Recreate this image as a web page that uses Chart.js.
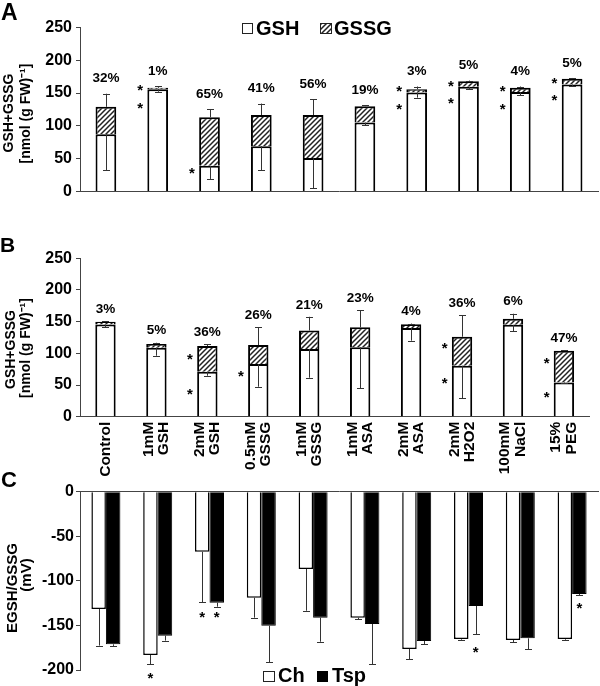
<!DOCTYPE html>
<html><head><meta charset="utf-8">
<script src="https://cdn.jsdelivr.net/npm/chart.js@4.4.0/dist/chart.umd.min.js"></script>
<style>
html,body{margin:0;padding:0;background:#fff;}
#wrap{position:relative;width:600px;height:686px;overflow:hidden;background:#fff;}
canvas{position:absolute;left:0;}
</style></head><body>
<div id="wrap">
<canvas id="cA" width="600" height="205" style="top:0px;width:600px;height:205px"></canvas>
<canvas id="cB" width="600" height="285" style="top:205px;width:600px;height:285px"></canvas>
<canvas id="cC" width="600" height="206" style="top:480px;width:600px;height:206px"></canvas>
</div>
<script>
// ---------- data ----------
const categories = [['Control'],['1mM','GSH'],['2mM','GSH'],['0.5mM','GSSG'],['1mM','GSSG'],['1mM','ASA'],['2mM','ASA'],['2mM','H2O2'],['100mM','NaCl'],['15%','PEG']];
const yTicksAB = [0,50,100,150,200,250];
const yTicksC = [-200,-150,-100,-50,0];

// Panel A
const gshA     = [87, 156, 39, 69, 51, 105, 151, 159.5, 151.5, 163];
const gssgA    = [42, 2, 74, 47.5, 65.5, 25, 5, 8.5, 6.5, 9];
const gshErrA  = [55, 4, 20, 36.5, 46, 4, 8, 4, 5, 2.5];
const totErrA  = [20, 2.5, 12.7, 17.5, 24.3, 1.5, 4, 1, 2, 1];
const pctA     = ['32%','1%','65%','41%','56%','19%','3%','5%','4%','5%'];
const starsA   = [[],[160,132],[34],[],[],[],[158,131],[166,140],[158,131],[170,144]];

// Panel B
const gshB     = [145.5, 109, 71, 83, 107, 109.5, 140, 80.5, 145, 54];
const gssgB    = [4.5, 5.7, 40.5, 30, 29, 31.5, 6, 45.7, 9.5, 50];
const gshErrB  = [4.5, 12.8, 6.3, 35.7, 45.5, 64.8, 20, 51.5, 9.8, 1];
const totErrB  = [1, 2, 3.2, 28, 21.7, 27.3, 1, 34.2, 8, 0.5];
const pctB     = ['3%','5%','36%','26%','21%','23%','4%','36%','6%','47%'];
const starsB   = [[],[],[97,42],[70],[],[],[],[114,58],[],[91,37]];

// Panel C
const chC      = [-131.6, -183.2, -67.3, -118.9, -86.7, -141.3, -176.4, -165.2, -166.3, -165.2];
const chErrC   = [41, 10.4, 56.7, 22.4, 46.8, 1.5, 11.3, 0.8, 2.7, 0.8];
const tspC     = [-171.2, -161.5, -124.5, -150.3, -141.3, -148.4, -167.5, -128.2, -164.5, -114.8];
const tspErrC  = [1.8, 5.5, 4.5, 41.1, 27, 44.9, 3.7, 31.8, 12, 1.2];
const starsCh  = [[],[-205],[-137],[],[],[],[],[],[],[]];
const starsTsp = [[],[],[-137],[],[],[],[],[-176],[],[-127]];

// ---------- styling helpers ----------
const FONT = '"Liberation Sans", Arial, Helvetica, sans-serif';
Chart.defaults.font.family = FONT;
Chart.defaults.font.weight = 'bold';
Chart.defaults.color = '#000';

function makeHatch(){
  const n = 5;
  const c = document.createElement('canvas'); c.width = n; c.height = n;
  const g = c.getContext('2d');
  g.fillStyle = '#fff'; g.fillRect(0,0,n,n);
  g.strokeStyle = '#222'; g.lineWidth = 1.5;
  g.beginPath();
  g.moveTo(-1, n+1); g.lineTo(n+1, -1);
  g.moveTo(-1, 1); g.lineTo(1, -1);
  g.moveTo(n-1, n+1); g.lineTo(n+1, n-1);
  g.stroke();
  return g.createPattern(c, 'repeat');
}
const HATCH = makeHatch();

function vErr(ctx, x, y0, y1, cap){
  const xx = Math.round(x) + 0.5;
  ctx.beginPath();
  ctx.moveTo(xx, y0); ctx.lineTo(xx, y1);
  ctx.moveTo(xx - cap, Math.round(y1)+0.5); ctx.lineTo(xx + cap, Math.round(y1)+0.5);
  ctx.stroke();
}
function star(ctx, x, y){
  ctx.save();
  ctx.font = 'bold 15px ' + FONT;
  ctx.textAlign = 'center'; ctx.textBaseline = 'alphabetic';
  ctx.fillStyle = '#000';
  ctx.fillText('*', x, y + 8.5);
  ctx.restore();
}
function rotText(ctx, text, cx, cy, size){
  ctx.save();
  ctx.translate(cx, cy); ctx.rotate(-Math.PI/2);
  ctx.font = 'bold ' + size + 'px ' + FONT;
  ctx.textAlign = 'center'; ctx.textBaseline = 'middle'; ctx.fillStyle = '#000';
  ctx.fillText(text, 0, 0);
  ctx.restore();
}
function letter(ctx, t, x, y, size){
  ctx.save(); ctx.font = 'bold ' + size + 'px ' + FONT; ctx.fillStyle = '#000';
  ctx.textAlign = 'left'; ctx.textBaseline = 'alphabetic'; ctx.fillText(t, x, y); ctx.restore();
}

function stackedPlugin(gsh, gssg, gshErr, totErr, pct, stars, labelOff){
  return {
    id: 'stackExtras',
    afterDatasetsDraw(chart){
      const ctx = chart.ctx, y = chart.scales.y;
      const meta = chart.getDatasetMeta(0);
      ctx.save();
      ctx.strokeStyle = '#333'; ctx.lineWidth = 1;
      gsh.forEach((v, i) => {
        const cx = meta.data[i].x;
        const tot = v + gssg[i];
        vErr(ctx, cx, y.getPixelForValue(v), y.getPixelForValue(v - gshErr[i]), 3.5);
        vErr(ctx, cx, y.getPixelForValue(tot), y.getPixelForValue(tot + totErr[i]), 3.5);
        const top = y.getPixelForValue(tot + totErr[i]);
        ctx.font = 'bold 13.5px ' + FONT; ctx.fillStyle = '#000';
        ctx.textAlign = 'center'; ctx.textBaseline = 'middle';
        ctx.fillText(pct[i], cx, top - labelOff);
        const xw = chart.scales.x.width / categories.length;
        stars[i].forEach(sv => star(ctx, cx - xw * 0.34, y.getPixelForValue(sv)));
      });
      ctx.restore();
    }
  };
}

const centerML = {
  id: 'centerML',
  beforeDraw(chart){
    const s = chart.scales.x;
    if (!s.options.ticks.display) return;
    s.getLabelItems().forEach(it => {
      if (it._adj) return;
      const n = Array.isArray(it.label) ? it.label.length : 1;
      it.options.translation[0] -= (n - 1) * it.font.lineHeight / 2;
      it._adj = true;
    });
  }
};

function yScaleAB(){
  return {
    stacked: true, min: 0, max: 250,
    afterBuildTicks(s){ s.ticks = yTicksAB.map(v => ({value: v})); },
    ticks: {font: {size: 16, weight: 'bold'}, color: '#000', padding: 4},
    grid: {display: true, drawOnChartArea: false, drawTicks: true, tickLength: 4, color: '#444'},
    border: {display: true, color: '#444', width: 1},
    afterFit(s){ s.width = 80; }
  };
}

// ---------- Panel A ----------
new Chart(document.getElementById('cA'), {
  type: 'bar',
  data: {
    labels: categories,
    datasets: [
      {label: 'GSH', data: gshA, backgroundColor: '#fff', borderColor: '#000', borderWidth: 2, stack: 's', categoryPercentage: 1, barPercentage: 0.4},
      {label: 'GSSG', data: gssgA, backgroundColor: HATCH, borderColor: '#000', borderWidth: 2, stack: 's', categoryPercentage: 1, barPercentage: 0.4}
    ]
  },
  options: {
    responsive: false, animation: false, devicePixelRatio: 1,
    layout: {padding: {top: 27.5, bottom: 6, left: 0, right: 2}},
    plugins: {legend: {display: false}, tooltip: {enabled: false}},
    scales: {
      x: {stacked: true, grid: {display: false, drawTicks: false}, ticks: {display: false},
          border: {display: true, color: '#444', width: 1}, afterFit(s){ s.height = 0; }},
      y: yScaleAB()
    }
  },
  plugins: [stackedPlugin(gshA, gssgA, gshErrA, totErrA, pctA, starsA, 15), {
    id: 'decoA',
    afterDraw(chart){
      const ctx = chart.ctx;
      letter(ctx, 'A', 1, 19.5, 23);
      rotText(ctx, 'GSH+GSSG', 9, 113, 14);
      rotText(ctx, '[nmol (g FW)\u207B\u00B9]', 26, 113.5, 14);
      ctx.save();
      ctx.lineWidth = 1; ctx.strokeStyle = '#222';
      ctx.fillStyle = '#fff'; ctx.fillRect(242, 23, 10, 10); ctx.strokeRect(242.5, 23.5, 10, 10);
      ctx.fillStyle = HATCH; ctx.fillRect(320, 23, 11, 10); ctx.strokeRect(320.5, 23.5, 11, 10);
      ctx.font = 'bold 20px ' + FONT; ctx.fillStyle = '#000'; ctx.textBaseline = 'alphabetic'; ctx.textAlign = 'left';
      ctx.fillText('GSH', 256, 34.5);
      ctx.fillText('GSSG', 334, 34.5);
      ctx.restore();
    }
  }]
});

// ---------- Panel B ----------
new Chart(document.getElementById('cB'), {
  type: 'bar',
  data: {
    labels: categories,
    datasets: [
      {label: 'GSH', data: gshB, backgroundColor: '#fff', borderColor: '#000', borderWidth: 2, stack: 's', categoryPercentage: 1, barPercentage: 0.4},
      {label: 'GSSG', data: gssgB, backgroundColor: HATCH, borderColor: '#000', borderWidth: 2, stack: 's', categoryPercentage: 1, barPercentage: 0.4}
    ]
  },
  options: {
    responsive: false, animation: false, devicePixelRatio: 1,
    layout: {padding: {top: 53.3, bottom: 0, left: 0, right: 2}},
    plugins: {legend: {display: false}, tooltip: {enabled: false}},
    scales: {
      x: {stacked: true, grid: {display: false, drawTicks: false},
          ticks: {display: true, autoSkip: false, maxRotation: 90, minRotation: 90, padding: 5,
                  font: {size: 15.5, weight: 'bold', lineHeight: 1}, color: '#000'},
          border: {display: true, color: '#444', width: 1}, afterFit(s){ s.height = 73.3; }},
      y: yScaleAB()
    }
  },
  plugins: [centerML, stackedPlugin(gshB, gssgB, gshErrB, totErrB, pctB, starsB, 12), {
    id: 'decoB',
    afterDraw(chart){
      const ctx = chart.ctx;
      letter(ctx, 'B', 0, 46.7, 21);
      rotText(ctx, 'GSH+GSSG', 11, 144.5, 14);
      rotText(ctx, '[nmol (g FW)\u207B\u00B9]', 26.5, 143, 14);
      letter(ctx, 'C', 1, 282, 22);
    }
  }]
});

// ---------- Panel C ----------
new Chart(document.getElementById('cC'), {
  type: 'bar',
  data: {
    labels: categories,
    datasets: [
      {label: 'Ch', data: chC, backgroundColor: '#fff', borderColor: '#000', borderWidth: 1.5, categoryPercentage: 0.56, barPercentage: 1},
      {label: 'Tsp', data: tspC, backgroundColor: '#000', borderColor: '#000', borderWidth: 1, categoryPercentage: 0.56, barPercentage: 1}
    ]
  },
  options: {
    responsive: false, animation: false, devicePixelRatio: 1,
    layout: {padding: {top: 11.7, bottom: 16, left: 0, right: 2}},
    plugins: {legend: {display: false}, tooltip: {enabled: false}},
    scales: {
      x: {position: 'top', grid: {display: false, drawTicks: false}, ticks: {display: false},
          border: {display: true, color: '#444', width: 1}, afterFit(s){ s.height = 0; }},
      y: {min: -200, max: 0,
          afterBuildTicks(s){ s.ticks = yTicksC.map(v => ({value: v})); },
          ticks: {font: {size: 16, weight: 'bold'}, color: '#000', padding: 2},
          grid: {display: true, drawOnChartArea: false, drawTicks: true, tickLength: 4, color: '#444'},
          border: {display: true, color: '#444', width: 1},
          afterFit(s){ s.width = 80; }}
    }
  },
  plugins: [{
    id: 'decoC',
    afterDatasetsDraw(chart){
      const ctx = chart.ctx, y = chart.scales.y;
      ctx.save(); ctx.strokeStyle = '#333'; ctx.lineWidth = 1;
      const m0 = chart.getDatasetMeta(0), m1 = chart.getDatasetMeta(1);
      chC.forEach((v, i) => {
        vErr(ctx, m0.data[i].x, y.getPixelForValue(v), y.getPixelForValue(v - chErrC[i]), 3.5);
        vErr(ctx, m1.data[i].x, y.getPixelForValue(tspC[i]), y.getPixelForValue(tspC[i] - tspErrC[i]), 3.5);
        starsCh[i].forEach(sv => star(ctx, m0.data[i].x, y.getPixelForValue(sv)));
        starsTsp[i].forEach(sv => star(ctx, m1.data[i].x, y.getPixelForValue(sv)));
      });
      ctx.restore();
    },
    afterDraw(chart){
      const ctx = chart.ctx;
      rotText(ctx, 'EGSH/GSSG', 12.5, 108, 15);
      rotText(ctx, '(mV)', 27, 95, 15);
      ctx.save();
      ctx.lineWidth = 1; ctx.strokeStyle = '#222';
      ctx.fillStyle = '#fff'; ctx.fillRect(263, 191, 11, 10); ctx.strokeRect(263.5, 191.5, 11, 10);
      ctx.fillStyle = '#000'; ctx.fillRect(317, 191, 11, 11);
      ctx.font = 'bold 20px ' + FONT; ctx.textBaseline = 'alphabetic'; ctx.textAlign = 'left';
      ctx.fillText('Ch', 278, 202);
      ctx.fillText('Tsp', 332, 202);
      ctx.restore();
    }
  }]
});
</script>
</body></html>
